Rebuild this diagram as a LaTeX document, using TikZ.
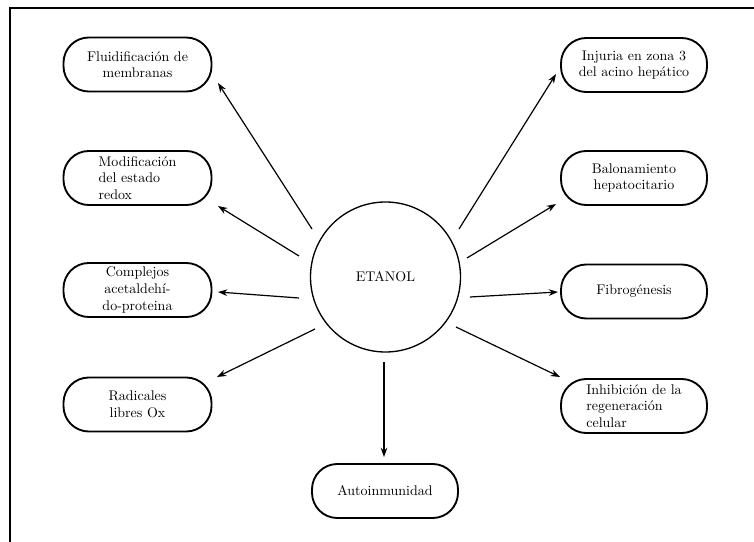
\documentclass[tikz,border=0pt]{standalone}
\usetikzlibrary{arrows.meta}
\begin{document}
\begin{tikzpicture}[x=0.75pt,y=-0.75pt,
  every node/.style={font=\fontsize{10.5}{12.5}\selectfont},
  effect/.style={draw, line width=1.4pt, rounded corners=19pt,
    minimum width=111pt, minimum height=40.5pt, inner sep=2pt},
  hub/.style={draw, circle, line width=1pt, minimum size=112.5pt},
  arr/.style={line width=0.9pt, -{Stealth[length=7pt,width=5pt]}},
  frameline/.style={line width=0.8pt}]
\useasboundingbox (0,0) rectangle (754,542);

% page frame
\coordinate (fa) at (754,8);
\coordinate (fb) at (10,8);
\coordinate (fc) at (10,542);
\draw[frameline] (fa) -- (fb) -- (fc);

% central node
\node[hub] (c) at (385.5,277) {ETANOL};

% left column
\node[effect, align=center] (f1) at (137.5,64.5) {Fluidificación de\\membranas};
\node[effect, align=left] (f2) at (137.5,178) {Modificación\\del estado\\redox};
\node[effect, align=center] (f3) at (137.5,290) {Complejos\\acetaldehí-\\do-proteina};
\node[effect, align=center] (f4) at (137.5,404.5) {Radicales\\libres Ox};

% right column
\node[effect, align=center, minimum width=109.5pt] (g1) at (634,65) {Injuria en zona 3\\del acino hepático};
\node[effect, align=center, minimum width=109.5pt] (g2) at (634,178) {Balonamiento\\hepatocitario};
\node[effect, align=center, minimum width=109.5pt] (g3) at (634,291.5) {Fibrogénesis};
\node[effect, align=left, minimum width=109.5pt] (g4) at (634,406) {Inhibición de la\\regeneración\\celular};

% bottom
\node[effect, align=center, minimum width=109.5pt] (h) at (385,491) {Autoinmunidad};

% arrow ends (short gaps to the circle and to the boxes)
\coordinate (t1) at (312,229); \coordinate (e1) at (218,83);
\coordinate (t2) at (299,256); \coordinate (e2) at (218,206);
\coordinate (t3) at (299,298); \coordinate (e3) at (218,292);
\coordinate (t4) at (315,329); \coordinate (e4) at (217,377);
\coordinate (t5) at (459,229); \coordinate (e5) at (556,74);
\coordinate (t6) at (467,258); \coordinate (e6) at (556,204);
\coordinate (t7) at (470,297); \coordinate (e7) at (558,292);
\coordinate (t8) at (456,327); \coordinate (e8) at (560,377);
\coordinate (t9) at (384,362); \coordinate (e9) at (384,457);

\foreach \i in {1,...,9} {
  \draw[arr] (t\i) -- (e\i);
}
\end{tikzpicture}
\end{document}
